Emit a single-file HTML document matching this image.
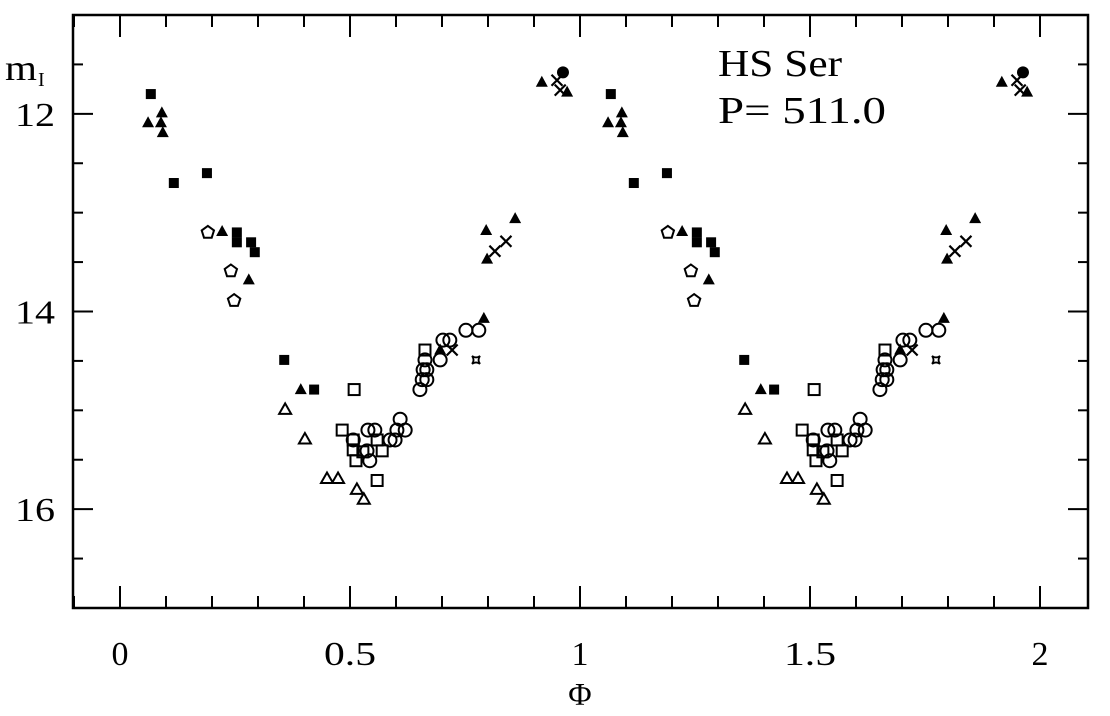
<!DOCTYPE html>
<html><head><meta charset="utf-8"><style>
html,body{margin:0;padding:0;background:#fff}
svg{display:block}
text{font-family:"Liberation Serif",serif;fill:#000}
</style></head><body>
<svg id="chart" width="1110" height="716" viewBox="0 0 1110 716">
<rect x="73" y="15" width="1015" height="593" fill="none" stroke="#000" stroke-width="2.5"/>
<g id="ticks"></g>
<g id="marks"></g>
<text x="5" y="80" font-size="36" textLength="32" lengthAdjust="spacingAndGlyphs">m</text>
<text x="38" y="86" font-size="20">I</text>
<text x="580" y="705" font-size="32" text-anchor="middle">Φ</text>
<text x="718" y="76" font-size="38" textLength="124" lengthAdjust="spacingAndGlyphs">HS Ser</text>
<text x="718" y="123" font-size="38" textLength="168" lengthAdjust="spacingAndGlyphs">P= 511.0</text>
</svg>
<script>
const xTicks=[0,0.5,1,1.5,2];
const xTickLabels=["0","0.5","1","1.5","2"];
const yTicks=[12,14,16];
const yTickLabels=["12","14","16"];
const fsqPhase=[0.067,0.189,0.117,0.254,0.254,0.285,0.293,0.357,0.422];
const fsqMag=[11.80,12.60,12.70,13.20,13.30,13.30,13.40,14.49,14.79];
const ftriPhase=[0.091,0.061,0.089,0.093,0.222,0.280,0.393,0.796,0.859,0.798,0.791,0.696,0.917,0.972];
const ftriMag=[11.99,12.09,12.09,12.19,13.19,13.68,14.79,13.18,13.06,13.47,14.07,14.39,11.68,11.78];
const pentPhase=[0.191,0.241,0.248];
const pentMag=[13.20,13.59,13.89];
const otriPhase=[0.359,0.402,0.450,0.474,0.515,0.530];
const otriMag=[14.99,15.29,15.69,15.69,15.80,15.90];
const osqPhase=[0.509,0.559,0.483,0.507,0.507,0.513,0.559,0.570,0.663,0.528];
const osqMag=[14.79,15.71,15.20,15.30,15.40,15.51,15.30,15.41,14.39,15.42];
const ocircPhase=[0.539,0.554,0.602,0.620,0.609,0.598,0.587,0.537,0.543,0.507,0.663,0.659,0.667,0.657,0.667,0.652,0.696,0.702,0.717,0.752,0.780];
const ocircMag=[15.20,15.20,15.20,15.20,15.09,15.30,15.30,15.41,15.51,15.30,14.49,14.59,14.59,14.69,14.69,14.79,14.49,14.29,14.29,14.19,14.19];
const crossPhase=[0.722,0.815,0.839,0.950,0.957];
const crossMag=[14.39,13.39,13.29,11.66,11.76];
const fcircPhase=[0.963];
const fcircMag=[11.58];
const starPhase=[0.774];
const starMag=[14.49];

const NS="http://www.w3.org/2000/svg";
function xs(p){return 120+p*460;}
function ys(m){return 15+(m-11)*98.83;}
const tg=document.getElementById('ticks');
const mg=document.getElementById('marks');
function mk(tag,attrs,parent){const e=document.createElementNS(NS,tag);for(const k in attrs)e.setAttribute(k,attrs[k]);parent.appendChild(e);return e;}
for(let i=-1;i<=20;i++){
  const p=i/10;const x=xs(p);if(x<=73||x>=1088)continue;
  const major=(i%5===0);const L=major?22:12;
  const t1=mk('line',{x1:x,x2:x,y1:608,y2:608-L,stroke:'#000','stroke-width':2},tg);
  
  
  const t2=mk('line',{x1:x,x2:x,y1:15,y2:15+L,stroke:'#000','stroke-width':2},tg);
  
  
}
xTicks.forEach((v,i)=>{
  const lab=xTickLabels[i];
  const t=mk('text',{x:xs(v),y:665,'font-size':34,'text-anchor':'middle'},tg);
  if(lab.length>1){t.setAttribute('textLength',52);t.setAttribute('lengthAdjust','spacingAndGlyphs');}
  t.textContent=lab;
  
  
});
for(let m=11.5;m<17;m+=0.5){
  const y=ys(m);const major=(m%2===0);const L=major?20:10;
  const t1=mk('line',{x1:73,x2:73+L,y1:y,y2:y,stroke:'#000','stroke-width':2},tg);
  
  
  const t2=mk('line',{x1:1088,x2:1088-L,y1:y,y2:y,stroke:'#000','stroke-width':2},tg);
  
  
}
yTicks.forEach((v,i)=>{
  const t=mk('text',{x:15,y:ys(v)+12,'font-size':34,textLength:40,lengthAdjust:'spacingAndGlyphs'},tg);
  t.textContent=yTickLabels[i];
  
  
});
function draw(ph,mg2,kind){
  ph.forEach((p,i)=>{
    [0,1].forEach(off=>{
      const x=xs(p+off),y=ys(mg2[i]);let e;
      if(kind==='fsq')e=mk('rect',{x:x-5,y:y-5,width:10,height:10,fill:'#000'},mg);
      else if(kind==='osq')e=mk('rect',{x:x-5.5,y:y-5.5,width:11,height:11,fill:'none',stroke:'#000','stroke-width':2},mg);
      else if(kind==='ftri')e=mk('polygon',{points:`${x},${y-6.5} ${x-6},${y+4.5} ${x+6},${y+4.5}`,fill:'#000'},mg);
      else if(kind==='otri')e=mk('polygon',{points:`${x},${y-6} ${x-6},${y+4.5} ${x+6},${y+4.5}`,fill:'none',stroke:'#000','stroke-width':2},mg);
      else if(kind==='pent'){let pts=[];for(let k=0;k<5;k++){const a=-Math.PI/2+k*2*Math.PI/5;pts.push((x+6.5*Math.cos(a)).toFixed(1)+','+(y+6.5*Math.sin(a)).toFixed(1));}
        e=mk('polygon',{points:pts.join(' '),fill:'none',stroke:'#000','stroke-width':2},mg);}
      else if(kind==='ocirc')e=mk('circle',{cx:x,cy:y,r:6.5,fill:'none',stroke:'#000','stroke-width':2},mg);
      else if(kind==='fcirc')e=mk('circle',{cx:x,cy:y,r:6,fill:'#000'},mg);
      else if(kind==='cross')e=mk('path',{d:`M${x-5.5},${y-5.5}L${x+5.5},${y+5.5}M${x-5.5},${y+5.5}L${x+5.5},${y-5.5}`,stroke:'#000','stroke-width':2.2,fill:'none'},mg);
      else if(kind==='star')e=mk('path',{d:`M${x-4},${y-4}Q${x},${y-1} ${x+4},${y-4}Q${x+1},${y} ${x+4},${y+4}Q${x},${y+1} ${x-4},${y+4}Q${x-1},${y} ${x-4},${y-4}Z`,stroke:'#000','stroke-width':1.8,fill:'none'},mg);
      
      
    });
  });
}
draw(fsqPhase,fsqMag,'fsq');
draw(ftriPhase,ftriMag,'ftri');
draw(pentPhase,pentMag,'pent');
draw(otriPhase,otriMag,'otri');
draw(osqPhase,osqMag,'osq');
draw(ocircPhase,ocircMag,'ocirc');
draw(crossPhase,crossMag,'cross');
draw(fcircPhase,fcircMag,'fcirc');
draw(starPhase,starMag,'star');
</script>
</body></html>
